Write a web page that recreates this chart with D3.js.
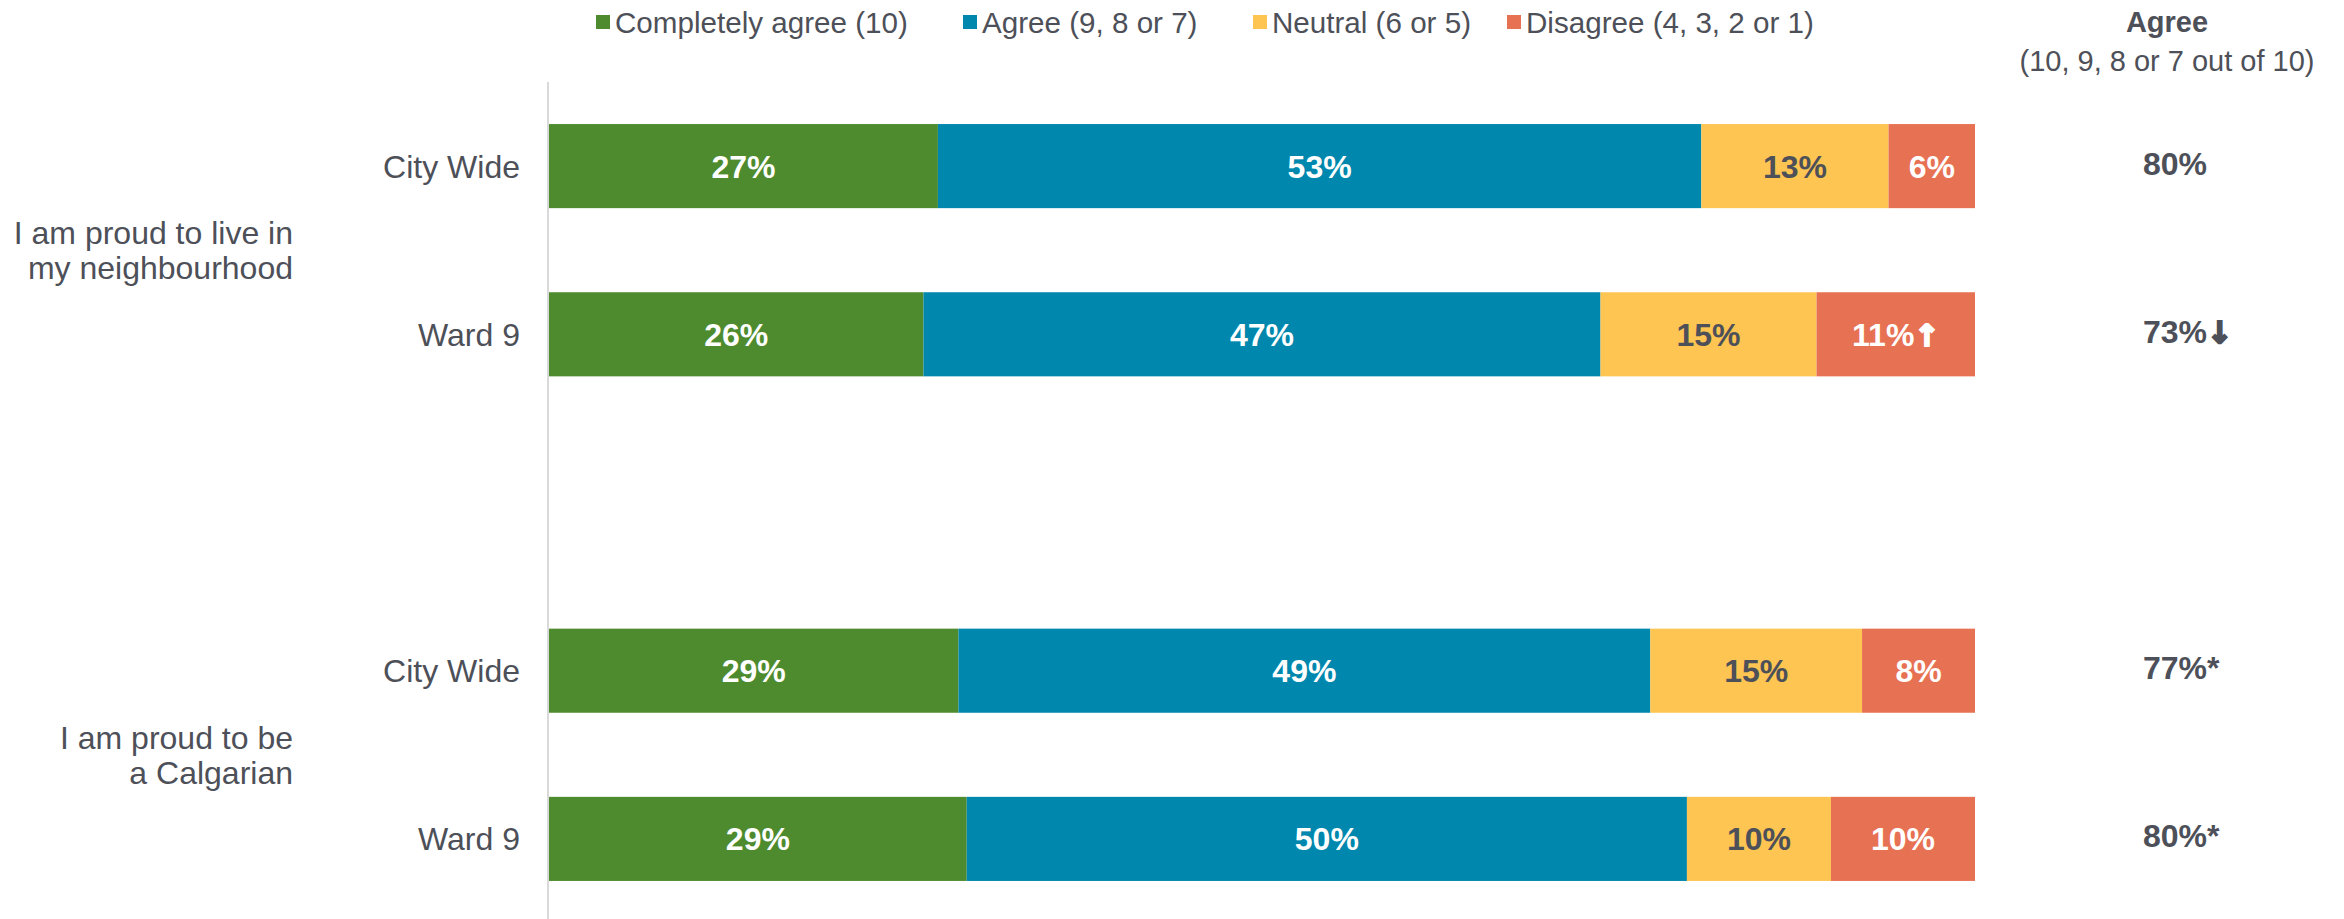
<!DOCTYPE html>
<html>
<head>
<meta charset="utf-8">
<script src="https://cdn.jsdelivr.net/npm/d3@7"></script>
<style>
  body { margin: 0; background: #fff; }
  svg { display: block; font-family: "Liberation Sans", Arial, sans-serif; }
</style>
</head>
<body>
<svg width="2344" height="919"></svg>
<script>
// data
const questions = [["I am proud to live in", "my neighbourhood"], ["I am proud to be", "a Calgarian"]];
const groups = ["City Wide", "Ward 9"];
const series = ["Completely agree (10)", "Agree (9, 8 or 7)", "Neutral (6 or 5)", "Disagree (4, 3, 2 or 1)"];
const completelyAgree = [27, 26, 29, 29];
const agree = [53, 47, 49, 50];
const neutral = [13, 15, 15, 10];
const disagree = [6, 11, 8, 10];
const disagreeMarks = ["", "\u2191", "", ""];
const agreeTotals = [80, 73, 77, 80];
const agreeMarks = ["", "\u2193", "*", "*"];

const colors = ["#4e8b2e", "#0087ad", "#fec552", "#e77153"];
const labelColors = ["#fff", "#fff", "#4d5058", "#fff"];
const textColor = "#4d5058";

const keys = ["c", "a", "n", "d"];
const rows = [];
questions.forEach((q, qi) => {
  groups.forEach((g, gi) => {
    const i = qi * groups.length + gi;
    rows.push({
      key: qi + "-" + g, q: qi, group: g,
      c: completelyAgree[i], a: agree[i], n: neutral[i], d: disagree[i],
      marks: ["", "", "", disagreeMarks[i]],
      total: agreeTotals[i], totalMark: agreeMarks[i]
    });
  });
});

const svg = d3.select("svg");
const margin = {top: 82, right: 369, bottom: -4, left: 549};
const width = +svg.attr("width") - margin.left - margin.right;
const height = +svg.attr("height") - margin.top - margin.bottom;

// gap slot between the two questions
const yDomain = [rows[0].key, rows[1].key, "gap", rows[2].key, rows[3].key];
const yScale = d3.scaleBand().domain(yDomain).range([0, height])
  .paddingInner(0.5).paddingOuter(0.25);
const xScale = d3.scaleLinear().domain([0, 1]).range([0, width]);

const stacked = d3.stack().keys(keys).offset(d3.stackOffsetExpand)(rows);

const g = svg.append("g")
  .attr("transform", `translate(${margin.left},${margin.top})`);

// left axis line
g.append("line")
  .attr("x1", -1).attr("x2", -1)
  .attr("y1", 0).attr("y2", height)
  .attr("stroke", "#d9d9d9")
  .attr("stroke-width", 2);

// bars
const layer = g.selectAll(".layer")
  .data(stacked)
  .enter().append("g")
    .attr("class", "layer")
    .attr("fill", (d, i) => colors[i]);

layer.selectAll("rect")
  .data(d => d)
  .enter().append("rect")
    .attr("x", d => xScale(d[0]))
    .attr("y", d => yScale(d.data.key))
    .attr("width", d => xScale(d[1]) - xScale(d[0]))
    .attr("height", yScale.bandwidth());

// adds value text plus an optional heavy arrow / asterisk
function valueText(sel, value, mark) {
  sel.append("tspan").text(d => value(d) + "%");
  sel.filter(d => mark(d) !== "")
    .append("tspan")
      .style("font-family", d => mark(d) === "*" ? null : "'DejaVu Sans'")
      .style("font-size", d => mark(d) === "*" ? null : "30px")
      .attr("stroke", function(d) { return mark(d) === "*" ? null : d3.select(this.parentNode).attr("fill"); })
      .attr("stroke-width", 2.2)
      .text(mark);
}

// segment labels
stacked.forEach((s, si) => {
  g.append("g").selectAll("text")
    .data(s)
    .enter().append("text")
      .attr("x", d => (xScale(d[0]) + xScale(d[1])) / 2)
      .attr("y", d => yScale(d.data.key) + yScale.bandwidth() / 2)
      .attr("dy", "0.36em")
      .attr("text-anchor", "middle")
      .attr("fill", labelColors[si])
      .style("font-size", "32px")
      .style("font-weight", "bold")
      .call(valueText, d => d.data[keys[si]], d => d.data.marks[si]);
});

// group labels
g.append("g").selectAll("text")
  .data(rows)
  .enter().append("text")
    .attr("x", -29)
    .attr("y", d => yScale(d.key) + yScale.bandwidth() / 2)
    .attr("dy", "0.36em")
    .attr("text-anchor", "end")
    .attr("fill", textColor)
    .style("font-size", "32px")
    .text(d => d.group);

// question labels
questions.forEach((q, qi) => {
  const mid = (yScale(rows[qi * 2].key) + yScale(rows[qi * 2 + 1].key) + yScale.bandwidth()) / 2;
  const t = g.append("text")
    .attr("text-anchor", "end")
    .attr("fill", textColor)
    .style("font-size", "32px");
  q.forEach((line, li) => {
    t.append("tspan")
      .attr("x", -256)
      .attr("y", mid + (li - (q.length - 1) / 2) * 35)
      .attr("dy", "0.36em")
      .text(line);
  });
});

// agree totals column
const colX = width + 192;
g.append("text")
  .attr("x", colX).attr("y", 22 - margin.top)
  .attr("dy", "0.36em")
  .attr("text-anchor", "middle")
  .attr("fill", textColor)
  .style("font-size", "29px")
  .style("font-weight", "bold")
  .text("Agree");
g.append("text")
  .attr("x", colX).attr("y", 61 - margin.top)
  .attr("dy", "0.36em")
  .attr("text-anchor", "middle")
  .attr("fill", textColor)
  .style("font-size", "29px")
  .text("(10, 9, 8 or 7 out of 10)");

g.append("g").selectAll("text")
  .data(rows)
  .enter().append("text")
    .attr("x", width + 168)
    .attr("y", d => yScale(d.key) + yScale.bandwidth() / 2 - 3)
    .attr("dy", "0.36em")
    .attr("text-anchor", "start")
    .attr("fill", textColor)
    .style("font-size", "32px")
    .style("font-weight", "bold")
    .call(valueText, d => d.total, d => d.totalMark);

// legend
const legendX = [596, 963, 1253, 1507];
const legend = svg.append("g").selectAll("g")
  .data(series)
  .enter().append("g")
    .attr("transform", (d, i) => `translate(${legendX[i]},22)`);
legend.append("rect")
  .attr("x", 0).attr("y", -7)
  .attr("width", 14).attr("height", 14)
  .attr("fill", (d, i) => colors[i]);
legend.append("text")
  .attr("x", 19)
  .attr("dy", "0.36em")
  .attr("fill", textColor)
  .style("font-size", "29.6px")
  .text(d => d);
</script>
</body>
</html>
